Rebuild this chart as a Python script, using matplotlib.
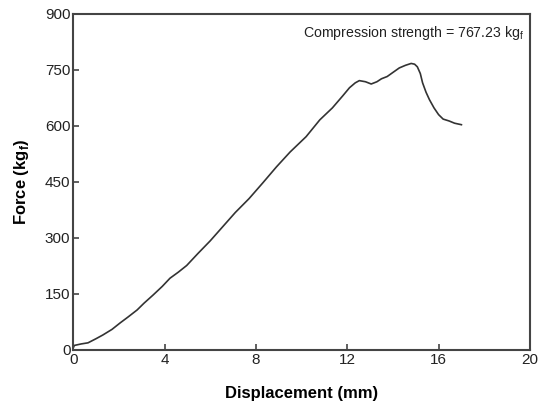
import matplotlib
matplotlib.use("Agg")
import matplotlib.pyplot as plt

plt.rcParams['font.family'] = ['Liberation Sans', 'DejaVu Sans']

# displacement (mm) vs force (kgf)
displacement = [0.0, 0.05, 0.35, 0.65, 1.0, 1.3, 1.7, 2.05, 2.4, 2.8, 3.1, 3.5, 3.9,
                4.24, 4.6, 4.97, 5.46, 6.0, 6.55, 7.1, 7.7, 8.3, 8.9, 9.5, 10.2,
                10.8, 11.35, 11.8, 12.1, 12.35, 12.53, 12.8, 13.05, 13.3, 13.5,
                13.75, 13.98, 14.28, 14.55, 14.8, 14.95, 15.07, 15.2, 15.3, 15.45,
                15.6, 15.8, 16.0, 16.2, 16.46, 16.7, 17.0]
force = [5, 12, 16, 19, 30, 40, 55, 72, 88, 107, 125, 147, 170,
         192, 208, 226, 258, 292, 330, 368, 405, 447, 490, 530, 571,
         616, 648, 680, 702, 715, 721, 718, 712, 718, 726,
         732, 742, 755, 762, 767, 765, 758, 740, 715, 690,
         670, 648, 630, 618, 613, 607, 603]

x_ticks = [0, 4, 8, 12, 16, 20]
y_ticks = [0, 150, 300, 450, 600, 750, 900]

fig = plt.figure(figsize=(5.38, 4.05), dpi=100)
ax = fig.add_axes([0.136, 0.136, 0.849, 0.83])

ax.plot(displacement, force, color='#333333', linewidth=1.2)

ax.set_xlim(0, 20)
ax.set_ylim(0, 900)
ax.set_xticks(x_ticks)
ax.set_yticks(y_ticks)
ax.tick_params(direction='in', length=4, width=1.2, color='#444444',
               labelsize=11, pad=2, top=False, right=False, labelcolor='#222222')
for sp in ax.spines.values():
    sp.set_color('#444444')
    sp.set_linewidth(1.5)

ax.set_xlabel('Displacement (mm)', fontsize=12, fontweight='bold', labelpad=14)
ax.set_ylabel('Force (kg$_\\mathregular{f}$)', fontsize=12, fontweight='bold', labelpad=10)

ax.text(10.05, 849, 'Compression strength = 767.23 kg$_\\mathregular{f}$',
        fontsize=10.2, va='center', ha='left', color='#222222')

fig.savefig('out.png', dpi=100)
